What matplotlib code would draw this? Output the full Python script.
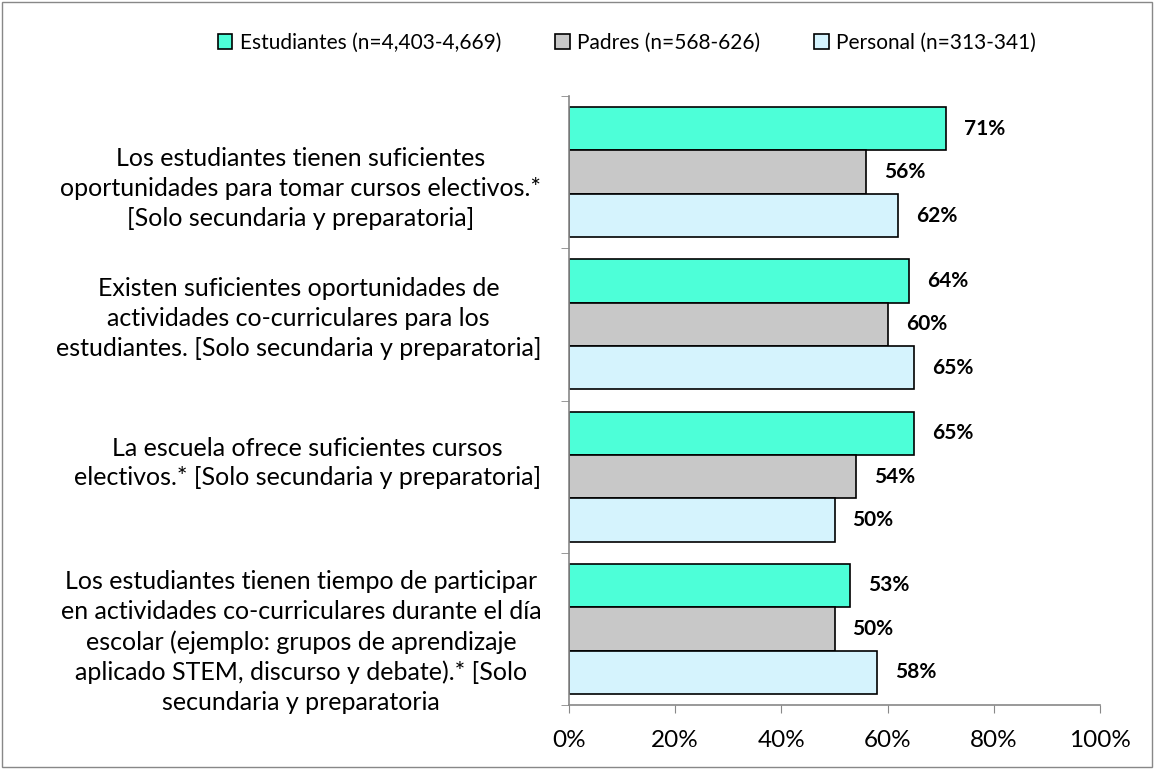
import numpy as np
import matplotlib.pyplot as plt
import matplotlib.transforms as mtransforms
from matplotlib.patches import Rectangle

plt.rcParams['font.family'] = ['Lato', 'DejaVu Sans']

# datos
categorias = [
    'Los estudiantes tienen suficientes\noportunidades para tomar cursos electivos.*\n[Solo secundaria y preparatoria]',
    'Existen suficientes oportunidades de\nactividades co-curriculares para los\nestudiantes. [Solo secundaria y preparatoria]',
    'La escuela ofrece suficientes cursos\nelectivos.* [Solo secundaria y preparatoria]',
    'Los estudiantes tienen tiempo de participar\nen actividades co-curriculares durante el día\nescolar (ejemplo: grupos de aprendizaje\naplicado STEM, discurso y debate).* [Solo\nsecundaria y preparatoria',
]
estudiantes = [71, 64, 65, 53]
padres = [56, 60, 54, 50]
personal = [62, 65, 50, 58]
series = ['Estudiantes (n=4,403-4,669)', 'Padres (n=568-626)', 'Personal (n=313-341)']
colores = ['#4DFFD8', '#C8C8C8', '#D5F3FD']

fig = plt.figure(figsize=(11.54, 7.69), dpi=100)
ax = fig.add_axes([569 / 1154, 64 / 769, 531 / 1154, 609 / 769])

y = np.arange(len(categorias))
h = 0.285
for k, (vals, nombre, col) in enumerate(zip([estudiantes, padres, personal], series, colores)):
    pos = y + (k - 1) * h
    ax.barh(pos, vals, height=h, color=col, edgecolor='black', linewidth=1.2, label=nombre)
    for p, v in zip(pos, vals):
        ax.annotate(f'{v}%', (v, p), xytext=(13, 0), textcoords='offset points',
                    va='center', ha='left', fontsize=15, fontweight='bold')

ax.set_xlim(0, 100)
ax.set_ylim(len(categorias) - 0.5, -0.5)
ax.set_xticks(range(0, 101, 20))
ax.set_xticklabels([f'{t}%' for t in range(0, 101, 20)], fontsize=17.5)
ax.set_yticks(y)
ax.set_yticklabels(categorias, fontsize=18, multialignment='center', linespacing=1.36)
ax.set_yticks(np.arange(-0.5, len(categorias)), minor=True)
ax.tick_params(axis='y', which='major', length=0, pad=20)
ax.tick_params(axis='y', which='minor', length=6, color='#888888', direction='out')
ax.tick_params(axis='x', length=6, color='#888888', pad=12)
for s in ['top', 'right']:
    ax.spines[s].set_visible(False)
for s in ['left', 'bottom']:
    ax.spines[s].set_color('#888888')
    ax.spines[s].set_linewidth(1.2)

# desplazamiento vertical de las etiquetas (como en Excel), en pixeles hacia abajo
desplaz = [11, -11, -19, 8]
for lab, d in zip(ax.get_yticklabels(), desplaz):
    lab.set_transform(lab.get_transform() + mtransforms.ScaledTranslation(0, -d / 100, fig.dpi_scale_trans))

fig.legend(loc='center', bbox_to_anchor=(627 / 1154, 1 - 43 / 769), ncol=3, frameon=False,
           fontsize=15, handlelength=0.7, handleheight=0.7, handletextpad=0.35, columnspacing=2.6)

fig.patches.append(Rectangle((0.002, 0.002), 0.996, 0.996, transform=fig.transFigure,
                             fill=False, edgecolor='#888888', linewidth=1))

fig.savefig('out.png', dpi=100)
